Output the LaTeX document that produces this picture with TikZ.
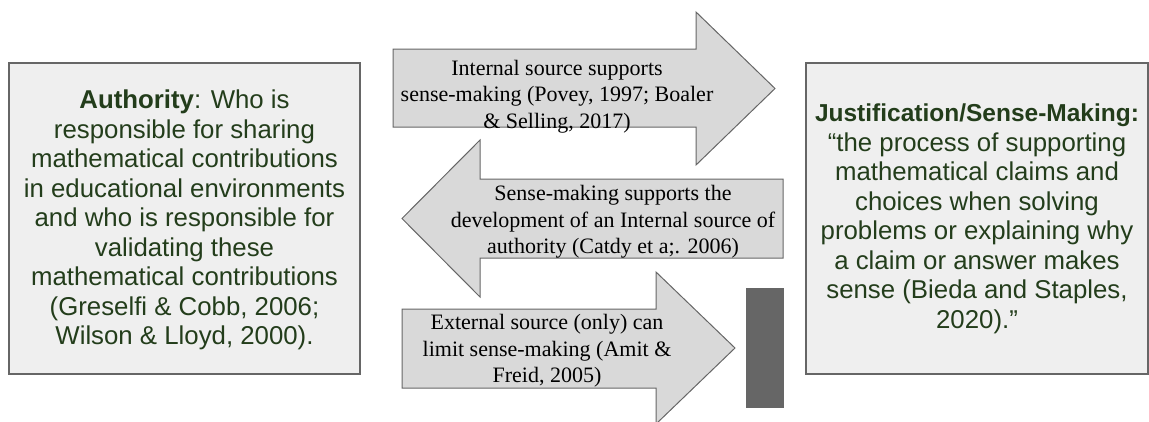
\documentclass[tikz,border=0pt]{standalone}
\usepackage{fontspec}
\usepackage{xcolor}
\setmainfont{Liberation Serif}
\newfontfamily\boxfont{Liberation Sans}

\definecolor{boxgreen}{HTML}{233D1B}
\definecolor{boxfill}{HTML}{EFEFEF}
\definecolor{arrowfill}{HTML}{D9D9D9}
\definecolor{edgegray}{HTML}{666666}

\begin{document}
\begin{tikzpicture}[x=1pt, y=-1pt,
  infobox/.style={draw=edgegray, line width=1.2pt, fill=boxfill},
  blockarrow/.style={draw=edgegray, line width=1pt, fill=arrowfill, line join=miter},
  boxtext/.style={align=center, text=boxgreen, inner sep=0pt, font=\boxfont\fontsize{25.8}{29.5}\selectfont},
  arrowtext/.style={align=center, inner sep=0pt, font=\fontsize{22}{26.5}\selectfont}]
\clip (0,0) rectangle (1149,421);

% the two boxes
\draw[infobox] (9,63) rectangle (360,374);
\draw[infobox] (806,63) rectangle (1148,374);

\node[boxtext] (authority) at (184.5,220) {\textbf{Authority}: Who is\\
  responsible for sharing\\
  mathematical contributions\\
  in educational environments\\
  and who is responsible for\\
  validating these\\
  mathematical contributions\\
  (Greselfi \& Cobb, 2006;\\
  Wilson \& Lloyd, 2000).};

\node[boxtext] (justification) at (977,219) {{\fontsize{24.5}{29.5}\selectfont\textbf{Justification/Sense-Making:}}\\
  “the process of supporting\\
  mathematical claims and\\
  choices when solving\\
  problems or explaining why\\
  a claim or answer makes\\
  sense (Bieda and Staples,\\
  2020).”};

% block arrows
\draw[blockarrow] (393,49) -- (696,49) -- (696,12) -- (775,88.5) -- (696,165) -- (696,127) -- (393,127) -- cycle;
\draw[blockarrow] (783,179) -- (480,179) -- (480,140) -- (402,218.5) -- (480,297) -- (480,258) -- (783,258) -- cycle;
\draw[blockarrow] (402,309) -- (656,309) -- (656,272) -- (735,348) -- (656,424) -- (656,388) -- (402,388) -- cycle;

\node[arrowtext] (internal) at (557,96.5) {Internal source supports\\
  sense-making (Povey, 1997; Boaler\\
  \& Selling, 2017)};
\node[arrowtext] (sensemaking) at (613,222) {Sense-making supports the\\
  development of an Internal source of\\
  authority (Catdy et a;. 2006)};
\node[arrowtext] (external) at (547,351) {External source (only) can\\
  limit sense-making (Amit \&\\
  Freid, 2005)};

% bar
\fill[edgegray] (746,288) rectangle (784,408);
\end{tikzpicture}
\end{document}
